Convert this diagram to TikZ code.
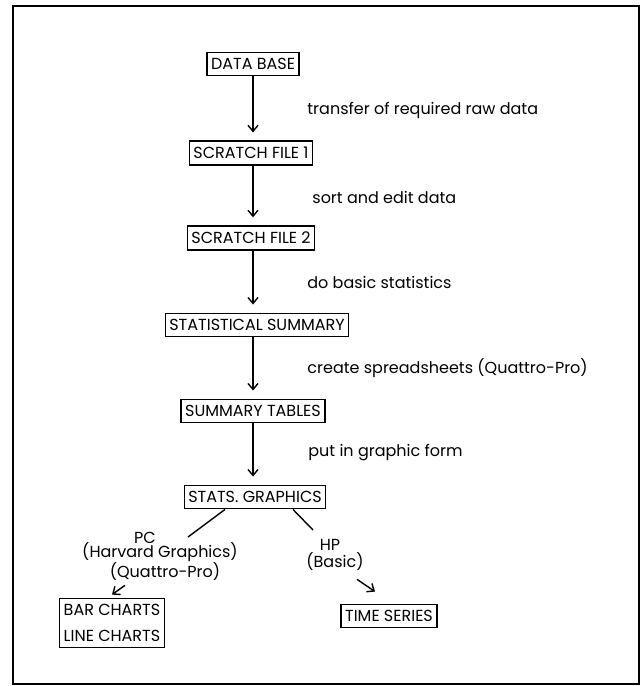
\documentclass[tikz,border=0pt]{standalone}
\usepackage{fontspec}
\setmainfont{Poppins}
\usetikzlibrary{arrows.meta}
\newcommand\dfont{\fontsize{8}{13}\selectfont}

\begin{document}
\begin{tikzpicture}[x=0.5pt,y=-0.5pt,
  box/.style={draw, line width=0.75pt, font=\dfont, inner xsep=2pt, inner ysep=3pt, align=left},
  arr/.style={-{Straight Barb[length=3pt,width=5pt]}, line width=0.7pt},
  ln/.style={line width=0.7pt},
  lab/.style={font=\dfont, inner sep=0pt}]
\useasboundingbox (0,0) rectangle (641,686);
\draw[line width=1pt] (13,6) rectangle (639,684);
% main chain
\node[box] (db) at (253,64) {DATA BASE};
\node[box] (sf1) at (251,153) {SCRATCH FILE 1};
\node[box] (sf2) at (251,238) {SCRATCH FILE 2};
\node[box] (ss) at (257,325) {STATISTICAL SUMMARY};
\node[box] (st) at (253,411) {SUMMARY TABLES};
\node[box] (sg) at (255,497) {STATS. GRAPHICS};
\node[lab, anchor=west] (l1) at (307,110) {transfer of required raw data};
\node[lab, anchor=west] (l2) at (312,197) {sort and edit data};
\node[lab, anchor=west] (l3) at (307,282) {do basic statistics};
\node[lab, anchor=west] (l4) at (307,368) {create spreadsheets (Quattro-Pro)};
\node[lab, anchor=west] (l5) at (308,453) {put in graphic form};
\draw[arr, shorten >=4pt] (253,0 |- db.south) -- (253,0 |- sf1.north);
\draw[arr, shorten >=4pt] (253,0 |- sf1.south) -- (253,0 |- sf2.north);
\draw[arr, shorten >=4pt] (253,0 |- sf2.south) -- (253,0 |- ss.north);
\draw[arr, shorten >=4pt] (253,0 |- ss.south) -- (253,0 |- st.north);
\draw[arr, shorten >=4pt] (253,0 |- st.south) -- (253,0 |- sg.north);
% branches
\node[lab] (pc) at (145,538) {PC};
\node[lab] (hg) at (160,552) {(Harvard Graphics)};
\node[lab] (qp) at (165,572) {(Quattro-Pro)};
\node[lab] (hp) at (330,545) {HP};
\node[lab] (bs) at (335,562) {(Basic)};
\node[box, align=left] (bar) at (112,623) {BAR CHARTS\\LINE CHARTS};
\node[box] (ts) at (389,616) {TIME SERIES};
\coordinate (pcend) at (188,537);
\coordinate (hpend) at (313,530);
\draw[ln] ([xshift=-15pt]sg.south) -- (pcend);
\draw[ln] ([xshift=19pt]sg.south) -- (hpend);
\draw[arr] ([xshift=-20pt,yshift=-2pt]qp.south) -- ([yshift=1.5pt]bar.north);
\draw[arr] ([xshift=11pt,yshift=-4pt]bs.south) -- ([xshift=-7pt,yshift=6pt]ts.north);
\end{tikzpicture}
\end{document}
